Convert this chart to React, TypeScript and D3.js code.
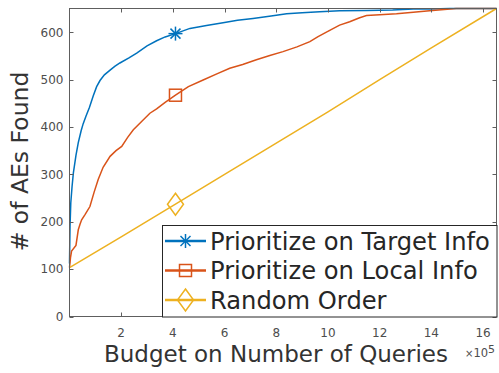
import React from "react";
import * as d3 from "d3";

// budget in units of 1e5 queries, y = # of AEs found
const targetX = [0, 0.02, 0.05, 0.1, 0.15, 0.25, 0.34, 0.45, 0.53, 0.64, 0.77, 0.92, 1.05, 1.18, 1.35, 1.57, 1.75, 1.95, 2.3, 2.6, 3.0, 3.37, 3.7, 4.1, 4.66, 5.3, 5.94, 6.5, 7.1, 7.8, 8.4, 9.0, 9.68, 10.45, 11.5, 12.5, 13.3, 14.0, 14.7, 16.52];
const targetY = [112, 190, 240, 275, 303, 340, 367, 392, 407, 423, 441, 466, 485, 498, 510, 520, 528, 535, 546, 556, 571, 582, 590, 597, 608, 614, 620, 625, 629, 634, 639, 641, 643, 645, 646, 647, 649, 649, 650, 650];

const localX = [0, 0.04, 0.08, 0.25, 0.34, 0.41, 0.47, 0.6, 0.79, 0.95, 1.11, 1.3, 1.57, 1.8, 2.02, 2.25, 2.47, 2.8, 3.11, 3.37, 3.7, 4.1, 4.6, 5.17, 5.7, 6.2, 6.7, 7.23, 7.75, 8.26, 8.8, 9.3, 9.6, 9.94, 10.45, 10.84, 11.2, 11.49, 12.0, 12.65, 13.3, 13.93, 14.5, 14.96, 16.52];
const localY = [103, 125, 138, 150, 183, 195, 204, 215, 232, 262, 289, 315, 338, 350, 359, 378, 394, 412, 429, 438, 452, 467, 485, 499, 512, 524, 532, 542, 551, 559, 569, 580, 590, 600, 615, 622, 630, 635, 637, 639, 642, 645, 648, 650, 650];

const randomX = [0, 2, 4.1, 6, 8, 10, 12, 14, 16.52];
const randomY = [103, 168, 237, 300, 366, 432, 500, 567, 650];

const markerX = 4.1;
const markerY = [597, 467, 237];

const seriesNames = ["Prioritize on Target Info", "Prioritize on Local Info", "Random Order"];
const colors = ["#0072BD", "#D95319", "#EDB120"];
const xTicks = [2, 4, 6, 8, 10, 12, 14, 16];
const yTicks = [0, 100, 200, 300, 400, 500, 600];

const left = 69.5, right = 496.5, top = 8.5, bottom = 316.5;

function Marker({ kind, cx, cy, color }: { kind: number; cx: number; cy: number; color: string }) {
  if (kind === 0) {
    const r = 7, d = 5;
    return (
      <g stroke={color} strokeWidth={1.5}>
        <line x1={cx} y1={cy - r} x2={cx} y2={cy + r} />
        <line x1={cx - r} y1={cy} x2={cx + r} y2={cy} />
        <line x1={cx - d} y1={cy - d} x2={cx + d} y2={cy + d} />
        <line x1={cx - d} y1={cy + d} x2={cx + d} y2={cy - d} />
      </g>
    );
  }
  if (kind === 1) {
    return <rect x={cx - 6} y={cy - 6} width={12} height={12} fill="none" stroke={color} strokeWidth={1.5} />;
  }
  return (
    <path d={`M${cx},${cy - 11}L${cx + 8},${cy}L${cx},${cy + 11}L${cx - 8},${cy}Z`} fill="none" stroke={color} strokeWidth={1.5} />
  );
}

export default function App() {
  const x = d3.scaleLinear().domain([0, 16.52]).range([left, right]);
  const y = d3.scaleLinear().domain([0, 650]).range([bottom, top]);

  const line = d3
    .line<[number, number]>()
    .x((d) => x(d[0]))
    .y((d) => y(d[1]));

  const series = [
    d3.zip(targetX, targetY) as [number, number][],
    d3.zip(localX, localY) as [number, number][],
    d3.zip(randomX, randomY) as [number, number][],
  ];

  const axisColor = "#5e5e5e";
  const tickColor = "#4d4d4d";

  // legend layout
  const lgLeft = 162, lgTop = 225;
  const rowY = [241, 270.5, 300];

  return (
    <svg width={499} height={373} style={{ position: "absolute", left: 0, top: 0, background: "#fff" }} fontFamily="'DejaVu Sans', sans-serif">
      <rect width={499} height={373} fill="#fff" />

      {series.map((s, i) => (
        <path key={i} d={line(s) || ""} fill="none" stroke={colors[i]} strokeWidth={1.5} />
      ))}
      {markerY.map((v, i) => (
        <Marker key={i} kind={i} cx={x(markerX)} cy={y(v)} color={colors[i]} />
      ))}

      {/* frame */}
      <rect x={left} y={top} width={right - left} height={bottom - top} fill="none" stroke={axisColor} strokeWidth={1} />
      {yTicks.map((t) => (
        <g key={t}>
          <line x1={left} x2={left + 4} y1={Math.round(y(t)) + 0.5} y2={Math.round(y(t)) + 0.5} stroke={axisColor} />
          <line x1={right} x2={right - 4} y1={Math.round(y(t)) + 0.5} y2={Math.round(y(t)) + 0.5} stroke={axisColor} />
          <text x={left - 6} y={y(t)} dy="0.36em" textAnchor="end" fontSize={12} fill={tickColor}>
            {t}
          </text>
        </g>
      ))}
      {xTicks.map((t) => (
        <g key={t}>
          <line y1={bottom} y2={bottom - 4} x1={Math.round(x(t)) + 0.5} x2={Math.round(x(t)) + 0.5} stroke={axisColor} />
          <line y1={top} y2={top + 4} x1={Math.round(x(t)) + 0.5} x2={Math.round(x(t)) + 0.5} stroke={axisColor} />
          <text x={x(t)} y={bottom + 20} textAnchor="middle" fontSize={12} fill={tickColor}>
            {t}
          </text>
        </g>
      ))}

      {/* axis labels */}
      <text x={276} y={362} textAnchor="middle" fontSize={23} fill="#333">
        Budget on Number of Queries
      </text>
      <text transform="translate(28,161.5) rotate(-90)" textAnchor="middle" fontSize={23.5} fill="#333">
        # of AEs Found
      </text>
      <text x={465} y={357} fill={tickColor}>
        <tspan fontSize={10}>×</tspan>
        <tspan fontSize={11.5}>10</tspan>
        <tspan fontSize={11} dy={-4.5}>5</tspan>
      </text>

      {/* legend */}
      <rect x={lgLeft + 0.5} y={lgTop + 0.5} width={right - lgLeft} height={bottom - lgTop} fill="#fff" stroke="#262626" strokeWidth={1} />
      {seriesNames.map((name, i) => (
        <g key={name}>
          <line x1={165} x2={206} y1={rowY[i]} y2={rowY[i]} stroke={colors[i]} strokeWidth={2.5} />
          <Marker kind={i} cx={185.5} cy={rowY[i]} color={colors[i]} />
          <text x={210} y={rowY[i] + 8.5} fontSize={24.2} fill="#262626">
            {name}
          </text>
        </g>
      ))}
    </svg>
  );
}
